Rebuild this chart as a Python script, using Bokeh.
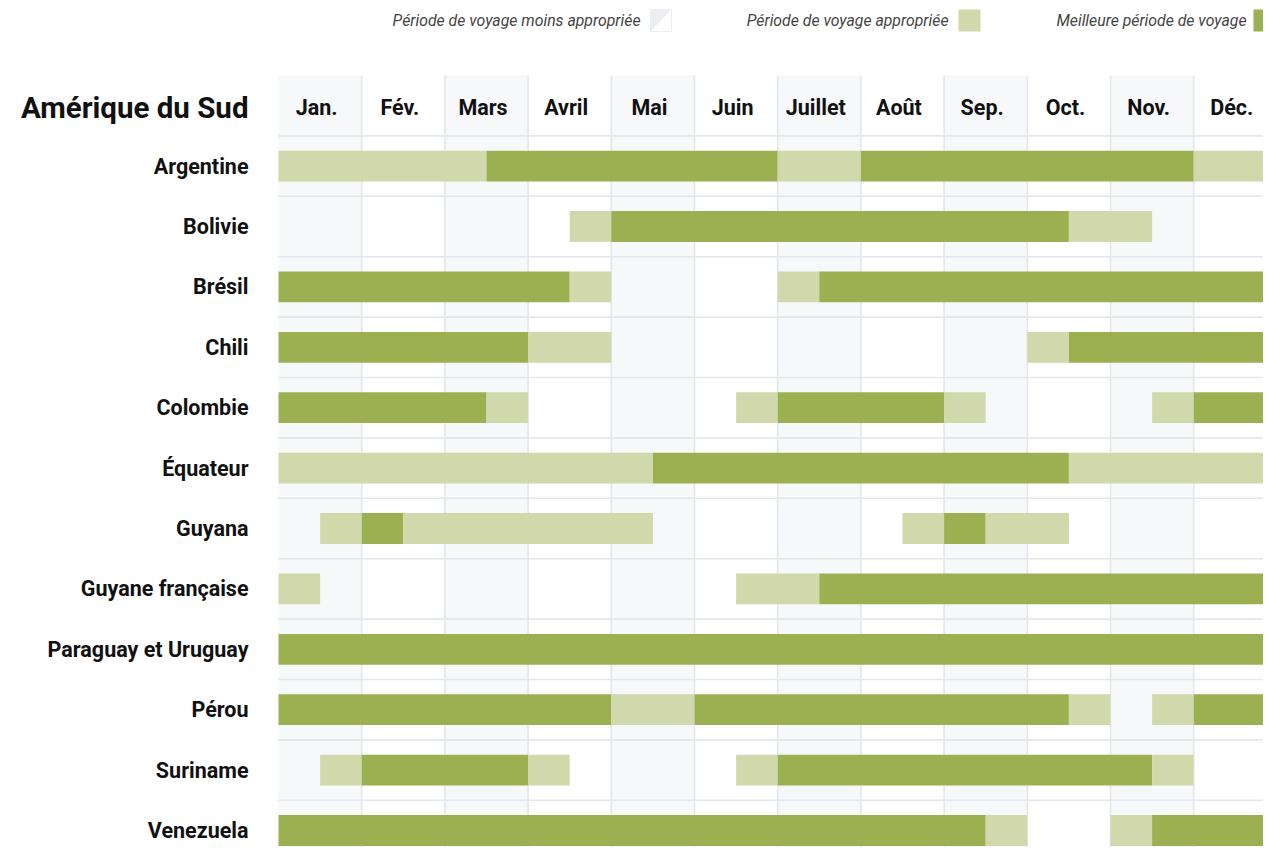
from bokeh.plotting import figure
from bokeh.models import Range1d
from bokeh.core.properties import value
from bokeh.embed import file_html
from bokeh.resources import INLINE

title = "Amérique du Sud"
months = ["Jan.", "Fév.", "Mars", "Avril", "Mai", "Juin", "Juillet",
          "Août", "Sep.", "Oct.", "Nov.", "Déc."]
countries = ["Argentine", "Bolivie", "Brésil", "Chili", "Colombie", "Équateur",
             "Guyana", "Guyane française", "Paraguay et Uruguay", "Pérou",
             "Suriname", "Venezuela"]
legend_labels = ["Période de voyage moins appropriée",
                 "Période de voyage appropriée",
                 "Meilleure période de voyage"]

# level per half-month (24 values): 0 = moins appropriée, 1 = appropriée, 2 = meilleure
argentine = [1,1,1,1,1, 2,2,2,2,2,2,2, 1,1, 2,2,2,2,2,2,2,2, 1,1]
bolivie   = [0,0,0,0,0,0,0, 1, 2,2,2,2,2,2,2,2,2,2,2, 1,1, 0,0,0]
bresil    = [2,2,2,2,2,2,2, 1, 0,0,0,0, 1, 2,2,2,2,2,2,2,2,2,2,2]
chili     = [2,2,2,2,2,2, 1,1, 0,0,0,0,0,0,0,0,0,0, 1, 2,2,2,2,2]
colombie  = [2,2,2,2,2, 1, 0,0,0,0,0, 1, 2,2,2,2, 1, 0,0,0,0, 1, 2,2]
equateur  = [1,1,1,1,1,1,1,1,1, 2,2,2,2,2,2,2,2,2,2, 1,1,1,1,1]
guyana    = [0, 1, 2, 1,1,1,1,1,1, 0,0,0,0,0,0, 1, 2, 1,1, 0,0,0,0,0]
guyane_fr = [1, 0,0,0,0,0,0,0,0,0,0, 1,1, 2,2,2,2,2,2,2,2,2,2,2]
paraguay  = [2] * 24
perou     = [2,2,2,2,2,2,2,2, 1,1, 2,2,2,2,2,2,2,2,2, 1, 0, 1, 2,2]
suriname  = [0, 1, 2,2,2,2, 1, 0,0,0,0, 1, 2,2,2,2,2,2,2,2,2, 1, 0,0]
venezuela = [2]*17 + [1, 0,0, 1, 2,2,2]

levels = [argentine, bolivie, bresil, chili, colombie, equateur, guyana,
          guyane_fr, paraguay, perou, suriname, venezuela]

colors = {0: None, 1: "#d1d8ab", 2: "#9cb052"}

# ---- geometry (picture px -> data units) ----
W, H = 1263, 847
X0, COLW = 278, 83.2      # grid left (px), column width
Y0, ROWH = 75, 60.4       # grid top (px), row height
def px(sx):
    return (sx - X0) / COLW
def py(sy):
    return (sy - Y0) / ROWH

p = figure(width=W, height=H, x_range=Range1d(px(0), px(W)),
           y_range=Range1d(py(H), py(0)),
           toolbar_location=None, output_backend="svg", min_border=0,
           outline_line_color=None, background_fill_color="white")
p.axis.visible = False
p.grid.visible = False

nrows = len(countries) + 1
# shaded columns
odd = list(range(0, 12, 2))
p.quad(left=odd, right=[m + 1 for m in odd], top=0, bottom=nrows + 1,
       fill_color="#f7f8fa", line_color=None)

# grid lines
vx = list(range(1, 12))
p.segment(x0=vx, y0=0, x1=vx, y1=nrows + 1, line_color="#e3e6ea", line_width=1.6)
hy = list(range(1, nrows + 1))
p.segment(x0=0, y0=hy, x1=12, y1=hy, line_color="#e3e6ea", line_width=1.6)

# bars
L, R, T, B, C = [], [], [], [], []
bh = 0.255
for r, lv in enumerate(levels):
    yc = r + 1.5
    i = 0
    while i < 24:
        j = i
        while j < 24 and lv[j] == lv[i]:
            j += 1
        if colors[lv[i]] is not None:
            L.append(i / 2); R.append(j / 2)
            T.append(yc - bh); B.append(yc + bh)
            C.append(colors[lv[i]])
        i = j
p.quad(left=L, right=R, top=T, bottom=B, fill_color=C, line_color=None)

# header labels
p.text(x=[m + 0.5 - 3.5 / COLW for m in range(12)], y=0.53, text=months,
       text_font=value("Roboto"), text_font_style="bold", text_font_size="21.5px",
       text_align="center", text_baseline="middle", text_color="#111111")
p.text(x=[px(248)], y=[0.53], text=[title],
       text_font=value("Roboto"), text_font_style="bold", text_font_size="29.5px",
       text_align="right", text_baseline="middle", text_color="#111111")
p.text(x=px(248), y=[r + 1.5 for r in range(len(countries))], text=countries,
       text_font=value("Roboto"), text_font_style="bold", text_font_size="21.5px",
       text_align="right", text_baseline="middle", text_color="#111111")

# legend
ly = py(20)
text_right = [640, 948, 1246]
sw_left = [650, 958, 1253]
p.text(x=[px(s) for s in text_right], y=ly, text=legend_labels,
       text_font=value("Roboto"), text_font_style="italic", text_font_size="15.8px",
       text_align="right", text_baseline="middle", text_color="#444444")
s_top, s_bot = py(9), py(31)
p.quad(left=[px(sw_left[0])], right=[px(sw_left[0] + 21)], top=s_top, bottom=s_bot,
       fill_color="white", line_color="#eeeff1", line_width=1)
p.patch(x=[px(sw_left[0]), px(sw_left[0] + 21), px(sw_left[0])],
        y=[s_top, s_top, s_bot], fill_color="#eceef1", line_color=None)
p.quad(left=[px(s) for s in sw_left[1:]], right=[px(s + 22) for s in sw_left[1:]],
       top=s_top, bottom=s_bot, fill_color=[colors[1], colors[2]], line_color=None)

open("out.html", "w").write(file_html(p, INLINE))
